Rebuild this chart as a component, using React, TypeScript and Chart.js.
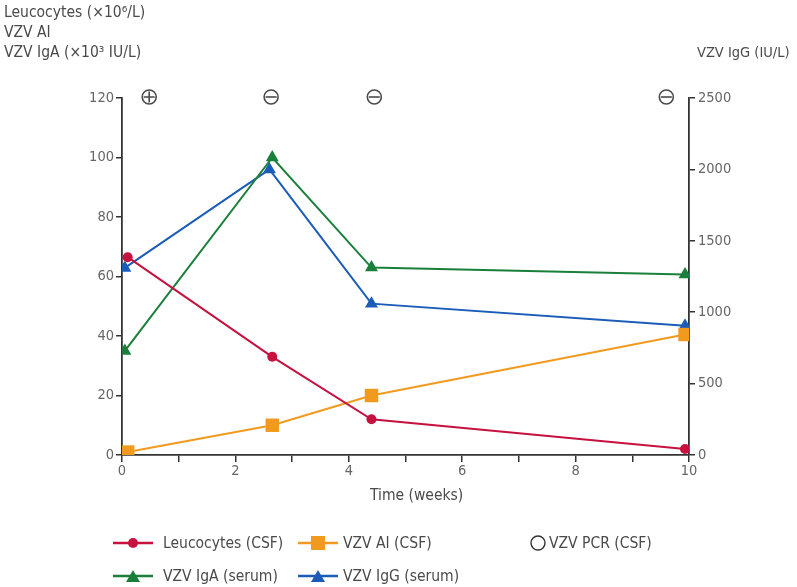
import React, { useEffect, useRef } from "react";
import { Chart, registerables } from "chart.js";
Chart.register(...registerables);

// ---- data ----
const leucoWeeks = [0.1, 2.65, 4.4, 9.93];
const leucocytes = [66.5, 33, 12, 2];
const aiWeeks = [0.1, 2.65, 4.4, 9.93];
const vzvAI = [1, 10, 20, 40.5];
const igaWeeks = [0.05, 2.65, 4.4, 9.93];
const vzvIgA = [35, 100, 63, 60.7];
const iggWeeks = [0.05, 2.6, 4.4, 9.93];
const vzvIgG = [1310, 2000, 1060, 905];
const pcrWeeks = [0.48, 2.63, 4.45, 9.6];
const pcrResults = ["+", "-", "-", "-"];

const leftTicks = [0, 20, 40, 60, 80, 100, 120];
const rightTicks = [0, 500, 1000, 1500, 2000, 2500];
const xTicks = [0, 1, 2, 3, 4, 5, 6, 7, 8, 9, 10];

const RED = "#c5123f";
const ORANGE = "#f29a1e";
const GREEN = "#1a7f3a";
const BLUE = "#1a5cb8";
const AXIS = "#333333";
const TXT = "#4a4a4a";
const FONT = "'Liberation Sans Narrow', 'DejaVu Sans Condensed', 'Roboto', sans-serif";

const toPts = (xs: number[], ys: number[]) => xs.map((x, i) => ({ x, y: ys[i] }));

const pcrPlugin = {
  id: "pcr",
  afterDraw(chart: any) {
    const ctx = chart.ctx;
    const xs = chart.scales.x;
    const y = chart.scales.y.getPixelForValue(120) - 1;
    ctx.save();
    ctx.strokeStyle = TXT;
    ctx.lineWidth = 1.6;
    pcrWeeks.forEach((w, i) => {
      const x = xs.getPixelForValue(w);
      const r = 7;
      ctx.beginPath();
      ctx.arc(x, y, r, 0, Math.PI * 2);
      ctx.stroke();
      ctx.beginPath();
      ctx.moveTo(x - r + 1.5, y);
      ctx.lineTo(x + r - 1.5, y);
      if (pcrResults[i] === "+") {
        ctx.moveTo(x, y - r + 1.5);
        ctx.lineTo(x, y + r - 1.5);
      }
      ctx.stroke();
    });
    ctx.restore();
  },
};

function LegendSym({ color, shape }: { color: string; shape: string }) {
  return (
    <svg width={40} height={14} style={{ display: "block" }}>
      <line x1={0} y1={7} x2={40} y2={7} stroke={color} strokeWidth={2.5} />
      {shape === "circle" && <circle cx={20} cy={7} r={5} fill={color} />}
      {shape === "square" && <rect x={13} y={0} width={14} height={14} fill={color} />}
      {shape === "triangle" && <polygon points="20,1 27,13 13,13" fill={color} />}
    </svg>
  );
}

export default function App() {
  const ref = useRef<HTMLCanvasElement>(null);
  useEffect(() => {
    const common = { borderWidth: 2, pointBorderWidth: 0, tension: 0 };
    const tickFont = { family: FONT, size: 14.5 };
    const chart = new Chart(ref.current!, {
      type: "line",
      data: {
        datasets: [
          { label: "Leucocytes (CSF)", data: toPts(leucoWeeks, leucocytes), borderColor: RED, backgroundColor: RED, pointStyle: "circle", pointRadius: 5, yAxisID: "y", ...common },
          { label: "VZV AI (CSF)", data: toPts(aiWeeks, vzvAI), borderColor: ORANGE, backgroundColor: ORANGE, pointStyle: "rect", pointRadius: 9.5, yAxisID: "y", ...common },
          { label: "VZV IgA (serum)", data: toPts(igaWeeks, vzvIgA), borderColor: GREEN, backgroundColor: GREEN, pointStyle: "triangle", pointRadius: 7.5, yAxisID: "y", ...common },
          { label: "VZV IgG (serum)", data: toPts(iggWeeks, vzvIgG), borderColor: BLUE, backgroundColor: BLUE, pointStyle: "triangle", pointRadius: 7.5, yAxisID: "y2", ...common },
        ],
      },
      options: {
        animation: false,
        responsive: false,
        maintainAspectRatio: false,
        layout: { padding: { top: 98, left: 0, right: 0, bottom: 0 } },
        plugins: { legend: { display: false }, tooltip: { enabled: false } },
        scales: {
          x: {
            type: "linear",
            min: 0,
            max: 10,
            afterBuildTicks: (s: any) => { s.ticks = xTicks.map((v) => ({ value: v })); },
            afterFit: (s: any) => { s.height = 132; },
            grid: { display: true, drawOnChartArea: false, drawTicks: true, tickLength: 7, color: AXIS, lineWidth: 1.5 },
            border: { display: true, color: AXIS, width: 1.8 },
            ticks: { color: "#666", font: tickFont, padding: 1, maxRotation: 0, autoSkip: false, callback: (v: any) => (Number(v) % 2 === 0 ? String(v) : "") },
          },
          y: {
            type: "linear",
            position: "left",
            min: 0,
            max: 120,
            afterBuildTicks: (s: any) => { s.ticks = leftTicks.map((v) => ({ value: v })); },
            afterFit: (s: any) => { s.width = 122; },
            grid: { display: true, drawOnChartArea: false, drawTicks: true, tickLength: 6, color: AXIS, lineWidth: 1.5 },
            border: { display: true, color: AXIS, width: 1.8 },
            ticks: { color: "#666", font: tickFont, padding: 2, callback: (v: any) => String(v) },
          },
          y2: {
            type: "linear",
            position: "right",
            min: 0,
            max: 2500,
            afterBuildTicks: (s: any) => { s.ticks = rightTicks.map((v) => ({ value: v })); },
            afterFit: (s: any) => { s.width = 108; },
            grid: { display: true, drawOnChartArea: false, drawTicks: true, tickLength: 6, color: AXIS, lineWidth: 1.5 },
            border: { display: true, color: AXIS, width: 1.8 },
            ticks: { color: "#666", font: tickFont, padding: 3, callback: (v: any) => String(v) },
          },
        },
      } as any,
      plugins: [pcrPlugin],
    });
    return () => chart.destroy();
  }, []);

  const txt: React.CSSProperties = { position: "absolute", fontFamily: FONT, fontSize: 15.5, color: TXT, whiteSpace: "nowrap", lineHeight: "18px" };
  const legendItem = (left: number, top: number, color: string, shape: string, label: string) => (
    <div style={{ position: "absolute", left, top, display: "flex", alignItems: "center" }}>
      <LegendSym color={color} shape={shape} />
      <span style={{ fontFamily: FONT, fontSize: 15.5, color: TXT, marginLeft: shape === "square" || color === BLUE ? 5 : 10, whiteSpace: "nowrap" }}>{label}</span>
    </div>
  );

  return (
    <div style={{ position: "fixed", left: 0, top: 0, width: 797, height: 587, background: "#fff", overflow: "hidden" }}>
      <canvas ref={ref} width={797} height={587} style={{ position: "absolute", left: 0, top: 0 }} />
      <div style={{ ...txt, left: 4, top: 3 }}>Leucocytes (×10⁶/L)</div>
      <div style={{ ...txt, left: 4, top: 23 }}>VZV AI</div>
      <div style={{ ...txt, left: 4, top: 43 }}>VZV IgA (×10³ IU/L)</div>
      <div style={{ ...txt, left: 697, top: 43, fontSize: 14.5 }}>VZV IgG (IU/L)</div>
      <div style={{ ...txt, left: 370, top: 486 }}>Time (weeks)</div>
      {legendItem(113, 534, RED, "circle", "Leucocytes (CSF)")}
      {legendItem(298, 534, ORANGE, "square", "VZV AI (CSF)")}
      <div style={{ position: "absolute", left: 530, top: 534, display: "flex", alignItems: "center" }}>
        <svg width={16} height={16} style={{ display: "block" }}><circle cx={8} cy={8} r={7} fill="none" stroke="#333" strokeWidth={1.4} /></svg>
        <span style={{ fontFamily: FONT, fontSize: 15.5, color: TXT, marginLeft: 3, whiteSpace: "nowrap" }}>VZV PCR (CSF)</span>
      </div>
      {legendItem(113, 567, GREEN, "triangle", "VZV IgA (serum)")}
      {legendItem(298, 567, BLUE, "triangle", "VZV IgG (serum)")}
    </div>
  );
}
